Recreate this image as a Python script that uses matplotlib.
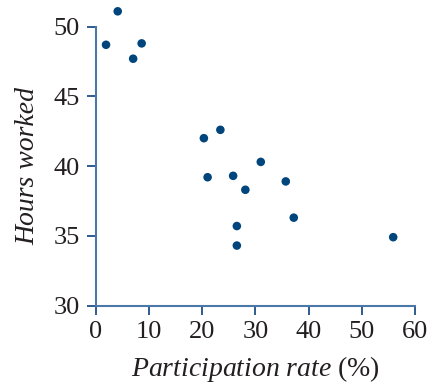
import matplotlib.pyplot as plt

# participation rate (%) vs. average hours worked
participation = [4.1, 1.9, 8.6, 7.0, 20.3, 23.4, 21.0, 25.8, 31.0, 28.1, 35.7, 26.5, 37.2, 26.5, 55.9]
hours = [51.1, 48.7, 48.8, 47.7, 42.0, 42.6, 39.2, 39.3, 40.3, 38.3, 38.9, 35.7, 36.3, 34.3, 34.9]

plt.rcParams['font.family'] = 'serif'
plt.rcParams['font.serif'] = ['Liberation Serif']
plt.rcParams['mathtext.fontset'] = 'custom'
plt.rcParams['mathtext.rm'] = 'Liberation Serif'
plt.rcParams['mathtext.it'] = 'Liberation Serif:italic'

dot_color = '#00457c'
axis_color = '#4a78a8'
text_color = '#231f20'

fig = plt.figure(figsize=(4.38, 3.84), dpi=100)
ax = fig.add_axes([0.219, 0.2044, 0.7285, 0.7262])

ax.scatter(participation, hours, s=38, color=dot_color, edgecolors='none', clip_on=False, zorder=3)

ax.set_xlim(0, 60)
ax.set_ylim(30, 50)
ax.set_xticks(range(0, 61, 10))
ax.set_yticks(range(30, 51, 5))

for side in ['top', 'right']:
    ax.spines[side].set_visible(False)
for side in ['left', 'bottom']:
    ax.spines[side].set_color(axis_color)
    ax.spines[side].set_linewidth(1.5)

ax.tick_params(axis='both', direction='out', length=6.5, width=1.3, color='#1f4f85',
               labelsize=19, labelcolor=text_color)
ax.tick_params(axis='y', pad=5)
ax.tick_params(axis='x', pad=4.5)

ax.set_xlabel(r'$\it{Participation\ rate}$ (%)', fontsize=20, color=text_color, labelpad=8)
ax.set_ylabel('Hours worked', fontsize=20, style='italic', color=text_color, labelpad=10)

plt.savefig('out.png', dpi=100)
